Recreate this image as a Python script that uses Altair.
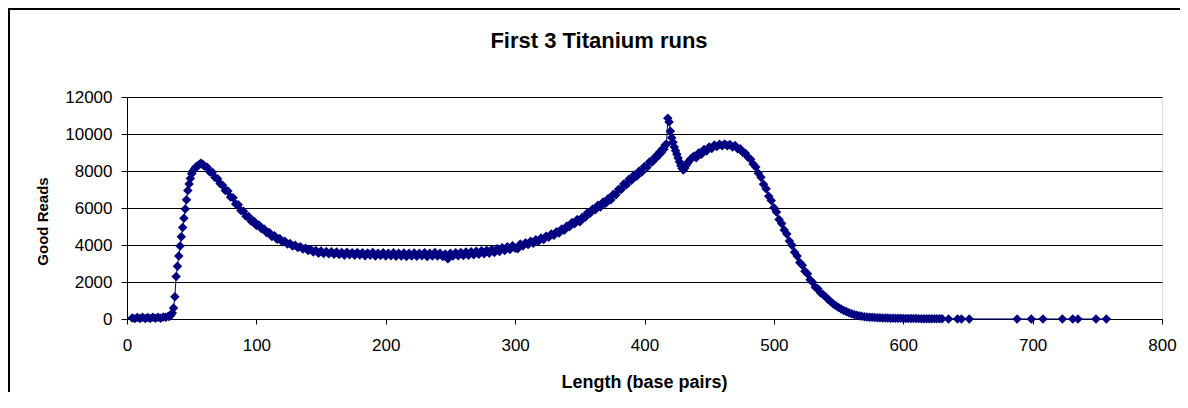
import altair as alt
import pandas as pd

# ---- data ----
# flat start (every 2 bp)
len_a = list(range(4, 34, 2))
reads_a = [60, 20, 80, 30, 90, 25, 85, 30, 95, 40, 100, 45, 110, 90, 150]

# steep rise and first peak (every bp)
len_b = list(range(33, 61))
reads_b = [150, 220, 320, 600, 1200, 2300, 2850, 3400, 3950, 4450,
           4950, 5450, 5950, 6450, 6950, 7300, 7600, 7850, 8000, 8100,
           8200, 8250, 8300, 8350, 8420, 8380, 8320, 8260]

# decay, plateau and rise to the second peak (every 2 bp)
len_c = list(range(62, 410, 2))
reads_c = [8200, 7950, 7930, 7650, 7580, 7320, 7220, 6950, 6920, 6600,
           6560, 6220, 6180, 5870, 5820, 5550, 5540, 5280, 5300, 5060,
           5080, 4880, 4860, 4660, 4680, 4460, 4500, 4310, 4350, 4170,
           4200, 4050, 4080, 3950, 3990, 3860, 3900, 3780, 3820, 3700,
           3760, 3620, 3700, 3560, 3680, 3540, 3650, 3520, 3640, 3500,
           3620, 3480, 3600, 3450, 3610, 3470, 3580, 3440, 3600, 3460,
           3580, 3420, 3570, 3440, 3590, 3410, 3560, 3430, 3580, 3400,
           3560, 3420, 3580, 3390, 3550, 3410, 3570, 3380, 3560, 3400,
           3570, 3390, 3550, 3420, 3580, 3380, 3560, 3410, 3590, 3400,
           3560, 3380, 3520, 3250, 3560, 3400, 3580, 3420, 3600, 3430,
           3620, 3440, 3640, 3470, 3660, 3500, 3690, 3530, 3720, 3560,
           3760, 3600, 3800, 3650, 3850, 3700, 3900, 3760, 3960, 3820,
           3800, 4050, 3950, 4120, 4020, 4200, 4100, 4280, 4200, 4380,
           4300, 4480, 4420, 4600, 4520, 4720, 4650, 4870, 4800, 5030,
           4980, 5220, 5150, 5380, 5250, 5500, 5480, 5750, 5720, 5950,
           5900, 6150, 6050, 6330, 6250, 6520, 6450, 6750, 6720, 7020,
           7000, 7300, 7250, 7560, 7500, 7780, 7720, 8000, 7950, 8250,
           8200, 8500, 8480, 8750]

# spike and dip (every bp)
len_d = list(range(409, 437))
reads_d = [8700, 8880, 8850, 9040, 9000, 9200, 9180, 9400, 9450, 10850,
           10650, 10150, 9800, 9550, 9300, 9100, 8900, 8700, 8500, 8300,
           8150, 8050, 8150, 8280, 8400, 8500, 8580, 8660]

# second hump and fall (every 2 bp)
len_e = list(range(438, 632, 2))
reads_e = [8800, 8720, 8990, 8910, 9160, 9080, 9300, 9220, 9400, 9330,
           9450, 9360, 9460, 9360, 9430, 9300, 9380, 9200, 9200, 9000,
           8960, 8740, 8640, 8380, 8220, 7880, 7660, 7280, 7040, 6640,
           6400, 6010, 5780, 5380, 5160, 4810, 4590, 4210, 3990, 3610,
           3400, 3060, 2900, 2580, 2440, 2120, 1980, 1720, 1640, 1420,
           1320, 1200, 1060, 930, 810, 710, 620, 540, 460, 400,
           340, 290, 240, 200, 170, 145, 125, 110, 100, 90,
           80, 70, 65, 58, 52, 48, 45, 42, 40, 37,
           35, 33, 30, 28, 26, 24, 22, 20, 18, 16,
           15, 14, 12, 11, 10, 9, 8]

# sparse tail
len_f = [635, 642, 645, 651, 688, 699, 708, 723, 731, 735, 749, 757]
reads_f = [6, 5, 4, 4, 2, 2, 2, 1, 1, 1, 1, 1]

x_ticks = [0, 100, 200, 300, 400, 500, 600, 700, 800]
y_ticks = [0, 2000, 4000, 6000, 8000, 10000, 12000]
title_text = ["First 3 Titanium runs"]

lengths = len_a + len_b + len_c + len_d + len_e + len_f
reads = reads_a + reads_b + reads_c + reads_d + reads_e + reads_f
assert len(lengths) == len(reads)
df = pd.DataFrame({"length": lengths, "reads": reads})

FONT = "Liberation Sans"
NAVY = "#000080"

x_enc = alt.X(
    "length:Q",
    scale=alt.Scale(domain=[0, 800], nice=False, zero=False),
    axis=alt.Axis(
        values=x_ticks, format="d", grid=False, labelFlush=False,
        title="Length (base pairs)", titleX=517, titleY=63,
        titleBaseline="middle", titleAlign="center",
        titleFont=FONT, titleFontSize=18, titleFontWeight="bold", titleColor="black",
        labelFont=FONT, labelFontSize=17, labelColor="black", labelPadding=13,
        domainColor="black", tickColor="black", tickSize=5,
    ),
)
y_enc = alt.Y(
    "reads:Q",
    scale=alt.Scale(domain=[0, 12000], nice=False),
    axis=alt.Axis(
        values=y_ticks, format="d", grid=True, gridColor="black", gridWidth=1,
        labelFlush=False,
        title="Good Reads", titleX=-85, titleY=124, titleAngle=-90,
        titleBaseline="middle", titleAlign="center",
        titleFont=FONT, titleFontSize=15, titleFontWeight="bold", titleColor="black",
        labelFont=FONT, labelFontSize=17, labelColor="black", labelPadding=9,
        domainColor="black", tickColor="black", tickSize=6,
    ),
)

base = alt.Chart(df)
line = base.mark_line(color=NAVY, strokeWidth=1).encode(x=x_enc, y=y_enc)
pts = base.mark_point(shape="diamond", filled=True, color=NAVY, size=90, opacity=1).encode(x=x_enc, y=y_enc)

one = pd.DataFrame({"f": [0]})
frame_left = alt.Chart(one).mark_rule(color="black", strokeWidth=2).encode(
    x=alt.value(-118), y=alt.value(-89), y2=alt.value(320)
)
frame_top = alt.Chart(one).mark_rule(color="black", strokeWidth=2).encode(
    x=alt.value(-119), x2=alt.value(1060), y=alt.value(-88)
)

title = alt.Chart(pd.DataFrame({"t": title_text})).mark_text(
    font=FONT, fontSize=22, fontWeight="bold", color="black",
    align="center", baseline="middle",
).encode(text="t:N", x=alt.value(472), y=alt.value(-56))

chart = alt.layer(line, pts, frame_left, frame_top, title).properties(
    width=1035,
    height=222,
    autosize=alt.AutoSizeParams(type="none"),
    padding={"left": 119, "top": 89, "right": 18, "bottom": 73},
).configure_view(
    fill="#C0C0C0", stroke="#808080", strokeWidth=1
).configure(background="white")

chart.save("out.html", embed_options={"renderer": "svg", "actions": False})
